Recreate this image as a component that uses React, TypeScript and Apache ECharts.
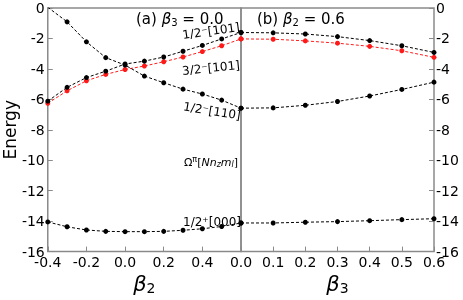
import React, { useEffect, useRef } from 'react';
import * as echarts from 'echarts';

// β2 scan at β3 = 0.0 (left panel)
const beta2 = [-0.4, -0.3, -0.2, -0.1, 0.0, 0.1, 0.2, 0.3, 0.4, 0.5, 0.6];
const left110 = [0.05, -0.91, -2.22, -3.26, -3.75, -4.47, -4.91, -5.33, -5.65, -6.05, -6.58];
const left101a = [-6.12, -5.21, -4.57, -4.15, -3.68, -3.49, -3.22, -2.84, -2.46, -2.03, -1.61];
const left101b = [-6.26, -5.44, -4.78, -4.36, -4.04, -3.81, -3.53, -3.22, -2.86, -2.48, -2.03];
const left000 = [-14.05, -14.37, -14.58, -14.67, -14.69, -14.69, -14.67, -14.6, -14.5, -14.35, -14.12];

// β3 scan at β2 = 0.6 (right panel)
const beta3 = [0.0, 0.1, 0.2, 0.3, 0.4, 0.5, 0.6];
const right101a = [-1.61, -1.63, -1.71, -1.88, -2.14, -2.48, -2.92];
const right101b = [-2.03, -2.05, -2.16, -2.31, -2.52, -2.81, -3.24];
const right110 = [-6.58, -6.56, -6.39, -6.14, -5.78, -5.35, -4.87];
const right000 = [-14.12, -14.12, -14.07, -14.03, -13.97, -13.9, -13.84];

const FONT = 'DejaVu Sans';
const FRAME = '#8a8a8a';

const pairs = (xs: number[], ys: number[]) => xs.map((x, i) => [x, ys[i]]);

const mkSeries = (xs: number[], ys: number[], color: string, idx: number) => ({
  type: 'line',
  xAxisIndex: idx,
  yAxisIndex: idx,
  data: pairs(xs, ys),
  symbol: 'circle',
  symbolSize: 5,
  showSymbol: true,
  clip: true,
  itemStyle: { color },
  lineStyle: { color, width: 1, type: [3, 2] },
  z: color === 'black' ? 3 : 2,
});

const fmt = (v: number) => {
  if (Math.abs(v) < 1e-9) return '0.0';
  return v.toFixed(1);
};

export default function App() {
  const ref = useRef<HTMLDivElement>(null);
  useEffect(() => {
    const chart = echarts.init(ref.current!, null, { renderer: 'svg' });
    const tickStyle = { show: true, inside: true, length: 5, lineStyle: { color: FRAME, width: 1 } };
    const noLine = { show: false, onZero: false };
    const labelStyle = { color: '#000', fontSize: 14, fontFamily: FONT };
    const nameRich = {
      i: { fontSize: 21, fontStyle: 'italic', fontFamily: FONT, color: '#000' },
      s: { fontSize: 14, fontFamily: FONT, color: '#000', verticalAlign: 'bottom', padding: [8, 0, 0, 0] },
    };
    const annot = (text: string, x: number, y: number, rotation: number) => ({
      type: 'text', x, y, rotation, z: 10,
      style: { text, fontSize: 12, fontFamily: FONT, fill: '#000', align: 'center', verticalAlign: 'middle' },
    });
    chart.setOption({
      animation: false,
      grid: [
        { left: 47, top: 8, width: 194, height: 252, show: true, borderColor: FRAME, borderWidth: 1.5, backgroundColor: 'transparent' },
        { left: 241, top: 8, width: 193, height: 252, show: true, borderColor: FRAME, borderWidth: 1.5, backgroundColor: 'transparent' },
      ],
      xAxis: [
        {
          type: 'value', gridIndex: 0, min: -0.4, max: 0.6, interval: 0.2, position: 'bottom',
          axisLine: noLine, axisTick: tickStyle, splitLine: { show: false },
          axisLabel: { ...labelStyle, margin: 3, formatter: (v: number) => (Math.abs(v - 0.6) < 1e-6 ? '' : fmt(v)) },
          name: '{i|β}{s|2}', nameLocation: 'middle', nameGap: 20,
          nameTextStyle: { rich: nameRich },
        },
        {
          type: 'value', gridIndex: 1, min: 0, max: 0.6, interval: 0.1, position: 'bottom',
          axisLine: noLine, axisTick: tickStyle, splitLine: { show: false },
          axisLabel: { ...labelStyle, margin: 3, formatter: fmt },
          name: '{i|β}{s|3}', nameLocation: 'middle', nameGap: 20,
          nameTextStyle: { rich: nameRich },
        },
      ],
      yAxis: [
        {
          type: 'value', gridIndex: 0, min: -16, max: 0, interval: 2, position: 'left',
          axisLine: noLine, axisTick: tickStyle, splitLine: { show: false },
          axisLabel: { ...labelStyle, margin: 3 },
          name: 'Energy', nameLocation: 'middle', nameGap: 25, nameRotate: 90,
          nameTextStyle: { fontSize: 17, fontFamily: FONT, color: '#000' },
        },
        {
          type: 'value', gridIndex: 1, min: -16, max: 0, interval: 2, position: 'right',
          axisLine: noLine, axisTick: tickStyle, splitLine: { show: false },
          axisLabel: { ...labelStyle, margin: 2 },
        },
      ],
      series: [
        mkSeries(beta2, left101b, '#ff1a1a', 0),
        mkSeries(beta2, left110, 'black', 0),
        mkSeries(beta2, left101a, 'black', 0),
        mkSeries(beta2, left000, 'black', 0),
        mkSeries(beta3, right101b, '#ff1a1a', 1),
        mkSeries(beta3, right101a, 'black', 1),
        mkSeries(beta3, right110, 'black', 1),
        mkSeries(beta3, right000, 'black', 1),
      ],
      graphic: [
        {
          type: 'text', x: 136, y: 19, z: 10,
          style: {
            text: '(a) {i|β}{s|3} = 0.0', fontSize: 15, fontFamily: FONT, fill: '#000', verticalAlign: 'middle', align: 'left',
            rich: { i: { fontSize: 15, fontStyle: 'italic', fontFamily: FONT }, s: { fontSize: 10, fontFamily: FONT, verticalAlign: 'bottom', padding: [6, 0, 0, 0] } },
          },
        },
        {
          type: 'text', x: 257, y: 19, z: 10,
          style: {
            text: '(b) {i|β}{s|2} = 0.6', fontSize: 15, fontFamily: FONT, fill: '#000', verticalAlign: 'middle', align: 'left',
            rich: { i: { fontSize: 15, fontStyle: 'italic', fontFamily: FONT }, s: { fontSize: 10, fontFamily: FONT, verticalAlign: 'bottom', padding: [6, 0, 0, 0] } },
          },
        },
        annot('1/2⁻[101]', 211, 31, 0.14),
        annot('3/2⁻[101]', 211, 68, 0.1),
        annot('1/2⁻[110]', 212, 111, -0.16),
        {
          type: 'text', x: 211, y: 162, z: 10,
          style: {
            text: 'Ω{sup|π}[{i|Nn}{sub|z}{i|m}{sub|l}]', fontSize: 11, fontFamily: FONT, fill: '#000', align: 'center', verticalAlign: 'middle',
            rich: {
              sup: { fontSize: 8, fontFamily: FONT, verticalAlign: 'top', padding: [0, 0, 5, 0] },
              i: { fontSize: 11, fontStyle: 'italic', fontFamily: FONT },
              sub: { fontSize: 8, fontStyle: 'italic', fontFamily: FONT, verticalAlign: 'bottom', padding: [5, 0, 0, 0] },
            },
          },
        },
        annot('1/2⁺[000]', 212, 222, 0),
      ],
    });
    return () => chart.dispose();
  }, []);
  return <div ref={ref} style={{ position: 'fixed', left: 0, top: 0, width: 463, height: 300 }} />;
}
